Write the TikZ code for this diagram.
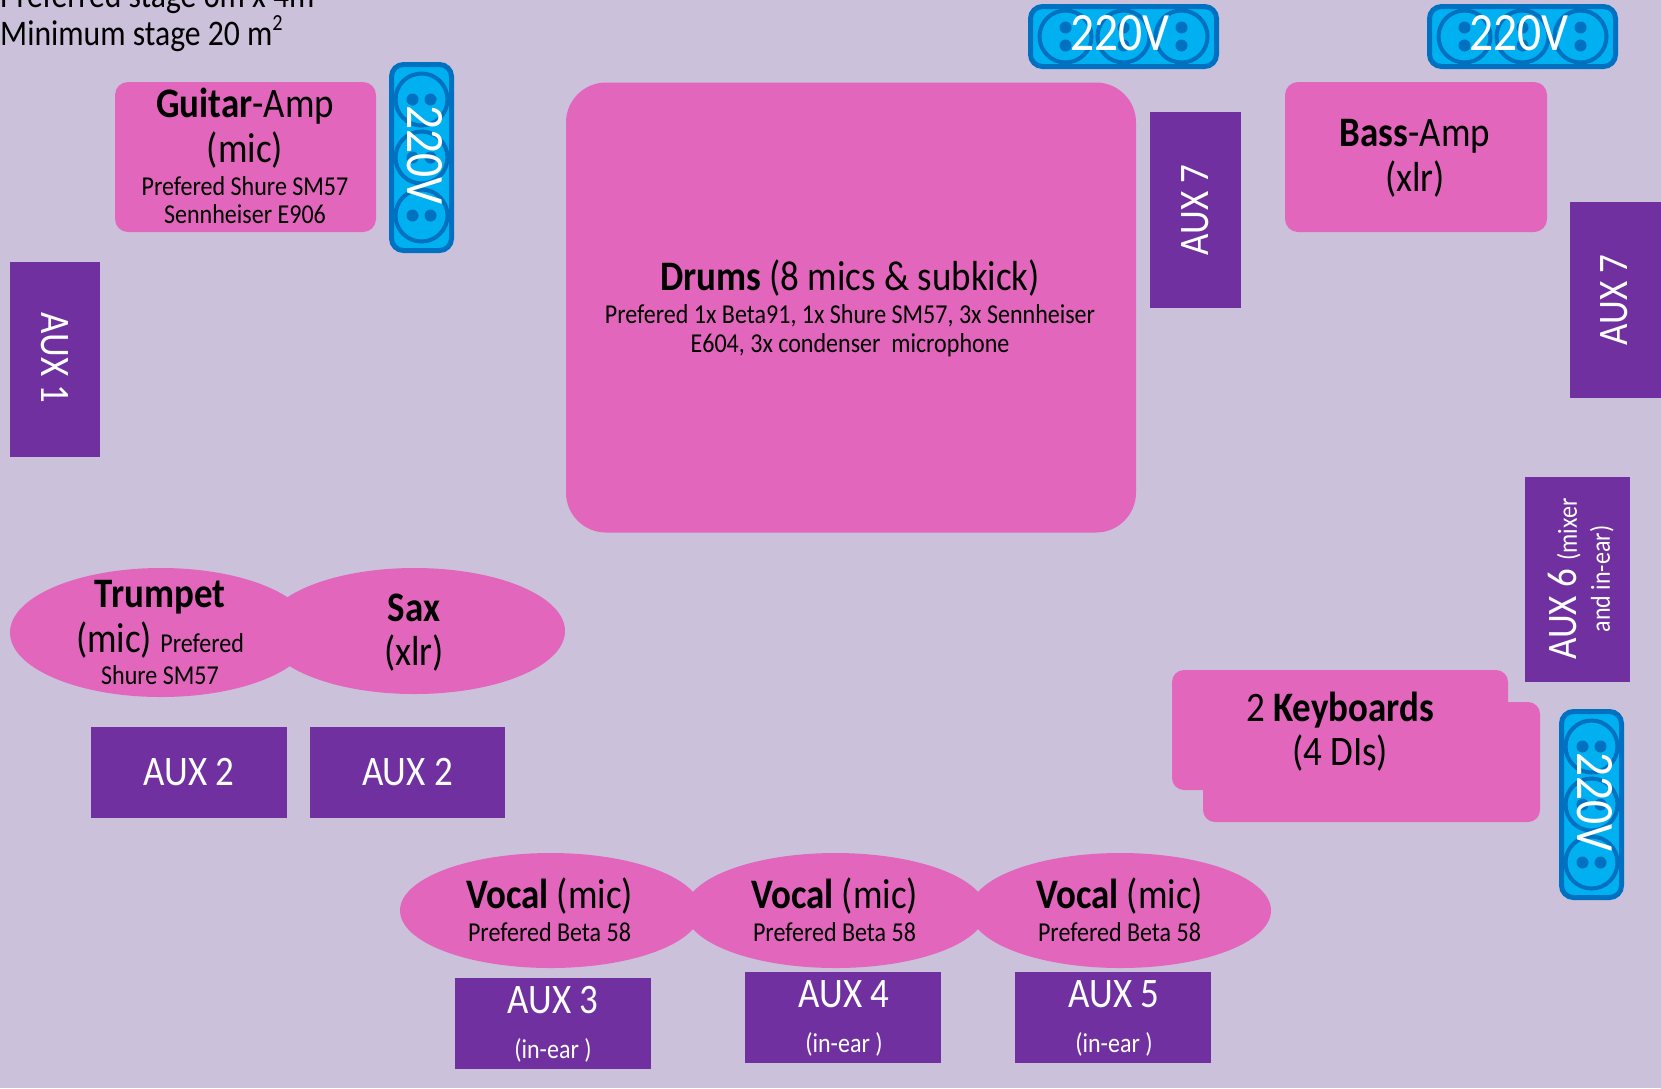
\documentclass[tikz,border=0pt]{standalone}
\usepackage{fontspec}
\setmainfont{Carlito}[FakeStretch=0.88]
\usetikzlibrary{shapes.geometric}
\definecolor{bgc}{HTML}{CBC1DB}
\definecolor{pinkc}{HTML}{E266BC}
\definecolor{purplec}{HTML}{7030A0}
\definecolor{sockc}{HTML}{00B0F0}
\definecolor{sockb}{HTML}{0070C0}
\newcommand{\bigf}{\fontsize{42}{45}\selectfont\rule[-12pt]{0pt}{43.5pt}}
\newcommand{\smf}{\fontsize{27.3}{28.5}\selectfont\rule[-3.5pt]{0pt}{27.5pt}}
\newcommand{\plug}{\fontsize{54}{56}\selectfont}
\tikzset{
  x=1pt,y=-1pt,
  pinkbox/.style={fill=pinkc,draw=none,inner sep=0pt,rounded corners=#1},
  pinkbox/.default=13pt,
  pinkell/.style={ellipse,fill=pinkc,draw=none,inner sep=0pt},
  auxbox/.style={rectangle,fill=purplec,draw=none,inner sep=0pt,text=white,font=\fontsize{42}{45}\selectfont,align=center},
  lab/.style={inner sep=0pt,align=center,text=black},
  whitelab/.style={inner sep=0pt,align=center,text=white},
  plugtext/.style={inner sep=0pt,text=white,font=\plug},
  pics/socket/.style={code={
    \draw[fill=sockc,draw=sockb,line width=5pt,rounded corners=12pt] (-93,-30) rectangle (93,30);
    \foreach \cx in {-58,0,58}{
      \draw[draw=sockb,line width=4pt] (\cx,0) circle[radius=26];
      \fill[sockb] (\cx,-9) circle[radius=6];
      \fill[sockb] (\cx,9) circle[radius=6];
    }
  }}
}
\begin{document}
\begin{tikzpicture}
\clip (0,0) rectangle (1661,1088);
\fill[bgc] (0,0) rectangle (1661,1088);
% stage note
\node[lab,anchor=base west,font=\fontsize{36}{38}\selectfont] (note1) at (0,7) {Preferred stage 6m x 4m};
\node[lab,anchor=base west,font=\fontsize{36}{38}\selectfont] (note2) at (0,45) {Minimum stage 20 m\raisebox{0.4em}{\fontsize{23}{23}\selectfont 2}};
% sockets
\pic at (1123.5,36.5) {socket};
\pic at (1522.5,36.5) {socket};
\pic[rotate=90] at (421.5,157.5) {socket};
\pic[rotate=90] at (1591.5,804.5) {socket};
\node[plugtext] (p1) at (1120,33) {220V};
\node[plugtext] (p2) at (1519,33) {220V};
\node[plugtext,rotate=-90] (p3) at (425,155) {220V};
\node[plugtext,rotate=-90] (p4) at (1595,802) {220V};
% pink shapes
\node[pinkbox,minimum width=261pt,minimum height=150pt] (guitar) at (245.5,157) {};
\node[lab] (guitarT) at (245,156.5) {\bigf\textbf{Guitar}-Amp\\\bigf (mic)\\[-4pt]\smf Prefered Shure SM57\\\smf Sennheiser E906};
\node[pinkbox=40pt,minimum width=570pt,minimum height=450pt] (drums) at (851,307.5) {};
\node[lab] (drumsT) at (850,307.5) {\bigf\textbf{Drums} (8 mics \& subkick)\\[-3.5pt]\smf Prefered 1x Beta91, 1x Shure SM57, 3x Sennheiser\\\smf E604, 3x condenser\ \ microphone};
\node[pinkbox,minimum width=262pt,minimum height=150pt] (bass) at (1416,157) {};
\node[lab] (bassT) at (1415,159) {\bigf\textbf{Bass}-Amp\\\bigf (xlr)};
\node[pinkbox=12pt,minimum width=337pt,minimum height=120pt] (kb2) at (1371.5,762) {};
\node[pinkbox=12pt,minimum width=336pt,minimum height=120pt] (kb1) at (1340,730) {};
\node[lab] (kbT) at (1340,733.75) {\bigf 2 \textbf{Keyboards}\\\bigf (4 DIs)};
\node[pinkell,minimum width=302pt,minimum height=129pt] (trumpet) at (161,632.5) {};
\node[pinkell,minimum width=301pt,minimum height=126pt] (sax) at (414.5,631) {};
\node[lab] (trumpetT) at (160,632) {\bigf\textbf{Trumpet}\\\bigf (mic) {\fontsize{27.3}{28.5}\selectfont Prefered}\\[-5pt]\smf Shure SM57};
\node[lab] (saxT) at (414,633.75) {\bigf\textbf{Sax}\\\bigf (xlr)};
\foreach \n/\cx in {v1/550.5,v2/835.5,v3/1120.5}{
  \node[pinkell,minimum width=301pt,minimum height=115pt] (\n) at (\cx,910.5) {};
  \node[lab] (\n T) at (\cx-1,910.5) {\bigf\textbf{Vocal} (mic)\\[-4pt]\smf Prefered Beta 58};
}
% monitors
\node[auxbox,minimum width=90pt,minimum height=195pt] (a1) at (55,359.5) {};
\node[whitelab,rotate=-90,font=\fontsize{42}{45}\selectfont] (a1T) at (55,358) {AUX 1};
\node[auxbox,minimum width=91pt,minimum height=196pt] (a7a) at (1195.5,210) {};
\node[whitelab,rotate=90,font=\fontsize{42}{45}\selectfont] (a7aT) at (1195,210) {AUX 7};
\node[auxbox,minimum width=91pt,minimum height=196pt] (a7b) at (1615.5,300) {};
\node[whitelab,rotate=90,font=\fontsize{42}{45}\selectfont] (a7bT) at (1614,300) {AUX 7};
\node[auxbox,minimum width=105pt,minimum height=205pt] (a6) at (1577.5,579.5) {};
\node[whitelab,rotate=90] (a6T) at (1579.5,579) {\bigf AUX 6 {\fontsize{27.3}{28.5}\selectfont (mixer}\\[-4pt]\smf and in-ear)};
\node[auxbox,minimum width=196pt,minimum height=91pt] (a2a) at (189,772.5) {AUX 2};
\node[auxbox,minimum width=195pt,minimum height=91pt] (a2b) at (407.5,772.5) {AUX 2};
\node[auxbox,minimum width=196pt,minimum height=91pt] (a3) at (553,1023.5) {};
\node[whitelab] (a3T) at (553,1022.5) {\bigf AUX 3\\[8pt]\smf (in-ear )};
\node[auxbox,minimum width=196pt,minimum height=91pt] (a4) at (843,1017.5) {};
\node[whitelab] (a4T) at (844,1016) {\bigf AUX 4\\[8pt]\smf (in-ear )};
\node[auxbox,minimum width=196pt,minimum height=91pt] (a5) at (1113,1017.5) {};
\node[whitelab] (a5T) at (1114,1016) {\bigf AUX 5\\[8pt]\smf (in-ear )};
\end{tikzpicture}
\end{document}
